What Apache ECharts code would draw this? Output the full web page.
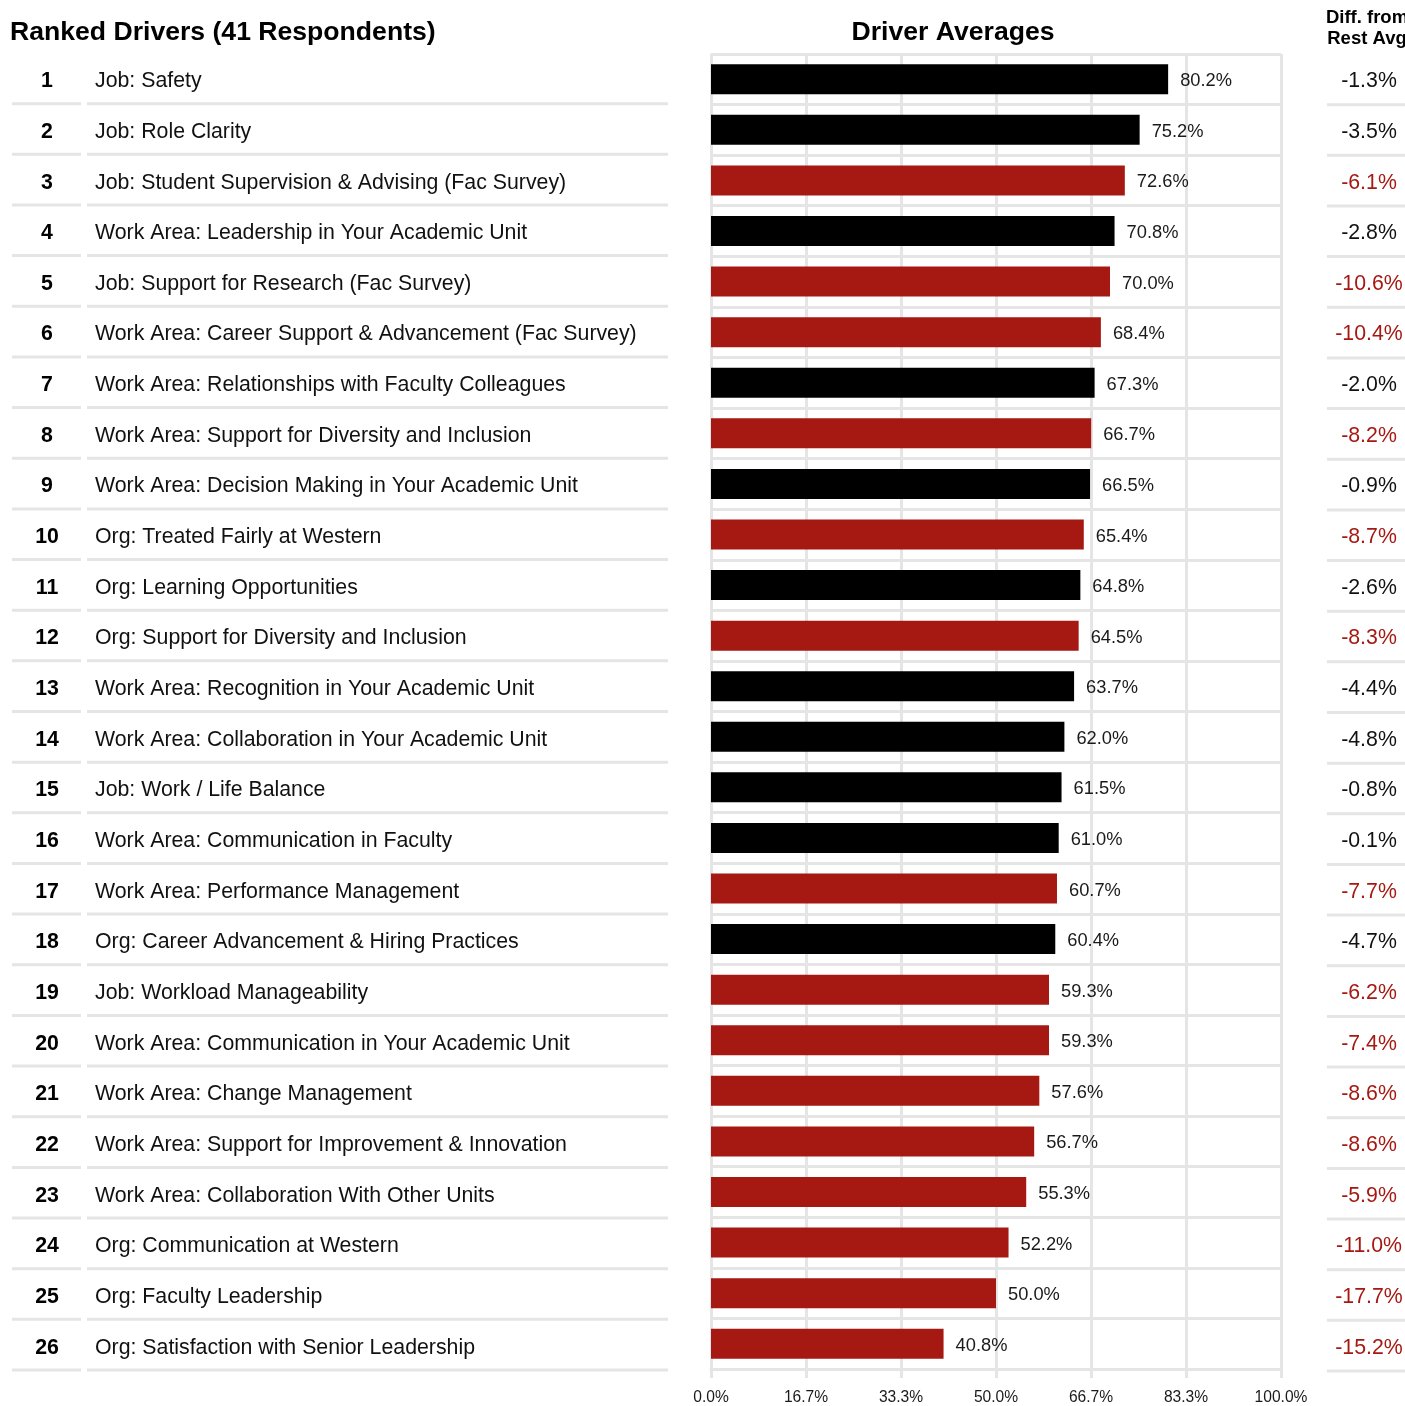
<!DOCTYPE html>
<html>
<head>
<meta charset="utf-8">
<script src="https://cdn.jsdelivr.net/npm/echarts@6/dist/echarts.min.js"></script>
<style>
  html, body { margin: 0; padding: 0; background: #fff; }
  #chart { width: 1405px; height: 1406px; }
</style>
</head>
<body>
<div id="chart"></div>
<script>
// Ranked survey drivers: average score and difference from the rest of the population
const ranks = [1,2,3,4,5,6,7,8,9,10,11,12,13,14,15,16,17,18,19,20,21,22,23,24,25,26];
const drivers = [
  "Job: Safety",
  "Job: Role Clarity",
  "Job: Student Supervision & Advising (Fac Survey)",
  "Work Area: Leadership in Your Academic Unit",
  "Job: Support for Research (Fac Survey)",
  "Work Area: Career Support & Advancement (Fac Survey)",
  "Work Area: Relationships with Faculty Colleagues",
  "Work Area: Support for Diversity and Inclusion",
  "Work Area: Decision Making in Your Academic Unit",
  "Org: Treated Fairly at Western",
  "Org: Learning Opportunities",
  "Org: Support for Diversity and Inclusion",
  "Work Area: Recognition in Your Academic Unit",
  "Work Area: Collaboration in Your Academic Unit",
  "Job: Work / Life Balance",
  "Work Area: Communication in Faculty",
  "Work Area: Performance Management",
  "Org: Career Advancement & Hiring Practices",
  "Job: Workload Manageability",
  "Work Area: Communication in Your Academic Unit",
  "Work Area: Change Management",
  "Work Area: Support for Improvement & Innovation",
  "Work Area: Collaboration With Other Units",
  "Org: Communication at Western",
  "Org: Faculty Leadership",
  "Org: Satisfaction with Senior Leadership"
];
const averages = [80.2, 75.2, 72.6, 70.8, 70.0, 68.4, 67.3, 66.7, 66.5, 65.4, 64.8, 64.5, 63.7,
                  62.0, 61.5, 61.0, 60.7, 60.4, 59.3, 59.3, 57.6, 56.7, 55.3, 52.2, 50.0, 40.8];
const diffs = [-1.3, -3.5, -6.1, -2.8, -10.6, -10.4, -2.0, -8.2, -0.9, -8.7, -2.6, -8.3, -4.4,
               -4.8, -0.8, -0.1, -7.7, -4.7, -6.2, -7.4, -8.6, -8.6, -5.9, -11.0, -17.7, -15.2];
const tickLabels = ["0.0%", "16.7%", "33.3%", "50.0%", "66.7%", "83.3%", "100.0%"];

const RED = '#a51912';
const BLACK = '#000000';
const GRID_GRAY = '#e5e5e5';
const FONT = '"Liberation Sans", Arial, sans-serif';
const flagged = d => d <= -5;

const TOP = 54, BOTTOM = 35;
const TEXT_DY = 2;

const rowIdx = ranks.map((r, i) => [0, i]);

const chart = echarts.init(document.getElementById('chart'), null, { renderer: 'canvas' });

const hiddenX = idx => ({
  gridIndex: idx, type: 'value', min: 0, max: 1, show: false
});
const hiddenY = idx => ({
  gridIndex: idx, type: 'category', data: ranks, inverse: true, show: false
});

chart.setOption({
  animation: false,
  backgroundColor: '#ffffff',
  textStyle: { fontFamily: FONT },
  graphic: [
    { type: 'text', x: 10, y: 33,
      style: { text: 'Ranked Drivers (41 Respondents)', font: 'bold 26.6px ' + FONT, fill: '#000', verticalAlign: 'middle' } },
    { type: 'text', x: 953, y: 33,
      style: { text: 'Driver Averages', font: 'bold 26.6px ' + FONT, fill: '#000', align: 'center', verticalAlign: 'middle' } },
    { type: 'text', x: 1367, y: 7,
      style: { text: 'Diff. from\nRest Avg', font: 'bold 18.5px ' + FONT, fill: '#000', align: 'center', lineHeight: 21 } }
  ],
  grid: [
    { left: 711, right: 124, top: TOP, bottom: BOTTOM },
    { left: 12, width: 656, top: TOP, bottom: BOTTOM },
    { left: 1327, right: 0, top: TOP, bottom: BOTTOM }
  ],
  xAxis: [
    {
      gridIndex: 0, type: 'value', min: 0, max: 100, interval: 100 / 6,
      axisLine: { show: true, lineStyle: { color: GRID_GRAY, width: 3 } },
      axisTick: { show: true, length: 9, lineStyle: { color: GRID_GRAY, width: 3 } },
      splitLine: { show: true, lineStyle: { color: GRID_GRAY, width: 3 } },
      axisLabel: {
        margin: 21, fontSize: 15.6, color: '#1a1a1a', fontFamily: FONT,
        formatter: (v, i) => tickLabels[i] !== undefined ? tickLabels[i] : v.toFixed(1) + '%'
      }
    },
    hiddenX(1),
    hiddenX(2)
  ],
  yAxis: [
    {
      gridIndex: 0, type: 'category', data: ranks, inverse: true,
      axisLine: { show: false }, axisTick: { show: false }, axisLabel: { show: false },
      splitLine: { show: true, lineStyle: { color: GRID_GRAY, width: 3 } }
    },
    hiddenY(1),
    hiddenY(2)
  ],
  series: [
    {
      type: 'bar', xAxisIndex: 0, yAxisIndex: 0, barWidth: 30,
      data: averages.map((v, i) => ({
        value: v,
        itemStyle: { color: flagged(diffs[i]) ? RED : BLACK }
      })),
      label: {
        show: true, position: 'right', distance: 12, offset: [0, TEXT_DY],
        fontSize: 18.3, color: '#1a1a1a', fontFamily: FONT,
        formatter: p => p.value.toFixed(1) + '%'
      }
    },
    {
      // rank + driver name table with row separators
      type: 'custom', xAxisIndex: 1, yAxisIndex: 1,
      data: rowIdx,
      encode: { x: 0, y: 1 },
      renderItem: (params, api) => {
        const i = api.value(1);
        const c = api.coord([0, i]);
        const h = api.size([0, 1])[1];
        const x0 = params.coordSys.x;
        const x1 = x0 + params.coordSys.width;
        const yb = c[1] + h / 2 - 1;
        const yc = c[1] + TEXT_DY;
        return {
          type: 'group',
          children: [
            { type: 'line', shape: { x1: x0, y1: yb, x2: x0 + 69, y2: yb },
              style: { stroke: GRID_GRAY, lineWidth: 3 } },
            { type: 'line', shape: { x1: x0 + 75, y1: yb, x2: x1, y2: yb },
              style: { stroke: GRID_GRAY, lineWidth: 3 } },
            { type: 'text', style: { text: String(ranks[i]), x: x0 + 35, y: yc,
              font: 'bold 21.3px ' + FONT, fill: '#000', align: 'center', verticalAlign: 'middle' } },
            { type: 'text', style: { text: drivers[i], x: x0 + 83, y: yc,
              font: '21.3px ' + FONT, fill: '#111', align: 'left', verticalAlign: 'middle' } }
          ]
        };
      }
    },
    {
      // difference from rest-of-population average
      type: 'custom', xAxisIndex: 2, yAxisIndex: 2,
      data: rowIdx,
      encode: { x: 0, y: 1 },
      renderItem: (params, api) => {
        const i = api.value(1);
        const c = api.coord([0, i]);
        const h = api.size([0, 1])[1];
        const x0 = params.coordSys.x;
        const x1 = x0 + params.coordSys.width;
        const yb = c[1] + h / 2;
        return {
          type: 'group',
          children: [
            { type: 'line', shape: { x1: x0, y1: yb, x2: x1, y2: yb },
              style: { stroke: GRID_GRAY, lineWidth: 3 } },
            { type: 'text', style: { text: diffs[i].toFixed(1) + '%', x: x0 + 42, y: c[1] + TEXT_DY,
              font: '21.3px ' + FONT, fill: flagged(diffs[i]) ? RED : '#111',
              align: 'center', verticalAlign: 'middle' } }
          ]
        };
      }
    }
  ]
});
</script>
</body>
</html>
